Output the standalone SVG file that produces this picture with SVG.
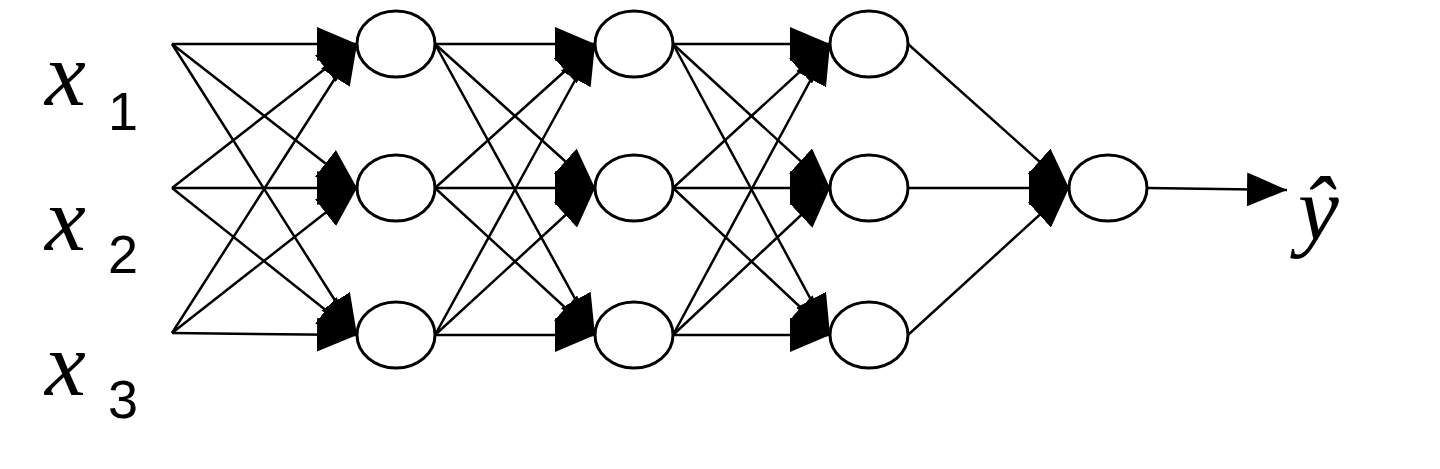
<svg xmlns="http://www.w3.org/2000/svg" width="1440" height="469" viewBox="0 0 1440 469">
<style>
.n{fill:#fff;stroke:#000;stroke-width:3}
.c line{stroke:#000;stroke-width:2.5;marker-end:url(#ah)}
.v{font-family:"Liberation Serif",serif;font-style:italic;font-size:92px}
.s{font-family:"Liberation Sans",sans-serif;font-size:54px}
</style>
<defs><marker id="ah" markerUnits="userSpaceOnUse" markerWidth="42" markerHeight="34" refX="40" refY="17" orient="auto"><path d="M0,0L40,17L0,34z" fill="#000"/></marker></defs>
<rect width="1440" height="469" fill="#fff"/>
<g class="c">
<line x1="172" y1="44" x2="357" y2="44"/><line x1="172" y1="44" x2="357" y2="188"/><line x1="172" y1="44" x2="357" y2="335"/>
<line x1="172" y1="188" x2="357" y2="44"/><line x1="172" y1="188" x2="357" y2="188"/><line x1="172" y1="188" x2="357" y2="335"/>
<line x1="172" y1="333" x2="357" y2="44"/><line x1="172" y1="333" x2="357" y2="188"/><line x1="172" y1="333" x2="357" y2="335"/>
<line x1="435" y1="44" x2="595" y2="44"/><line x1="435" y1="44" x2="595" y2="188"/><line x1="435" y1="44" x2="595" y2="335"/>
<line x1="435" y1="188" x2="595" y2="44"/><line x1="435" y1="188" x2="595" y2="188"/><line x1="435" y1="188" x2="595" y2="335"/>
<line x1="435" y1="335" x2="595" y2="44"/><line x1="435" y1="335" x2="595" y2="188"/><line x1="435" y1="335" x2="595" y2="335"/>
<line x1="673" y1="44" x2="830" y2="44"/><line x1="673" y1="44" x2="830" y2="188"/><line x1="673" y1="44" x2="830" y2="335"/>
<line x1="673" y1="188" x2="830" y2="44"/><line x1="673" y1="188" x2="830" y2="188"/><line x1="673" y1="188" x2="830" y2="335"/>
<line x1="673" y1="335" x2="830" y2="44"/><line x1="673" y1="335" x2="830" y2="188"/><line x1="673" y1="335" x2="830" y2="335"/>
<line x1="908" y1="44" x2="1069" y2="188"/><line x1="908" y1="188" x2="1069" y2="188"/><line x1="908" y1="335" x2="1069" y2="188"/>
<line x1="1147" y1="188" x2="1287" y2="190"/>
</g>
<g id="l1a"><ellipse class="n" cx="396" cy="44" rx="39" ry="33"/></g>
<g id="l1b"><ellipse class="n" cx="396" cy="188" rx="39" ry="33"/></g>
<g id="l1c"><ellipse class="n" cx="396" cy="335" rx="39" ry="33"/></g>
<g id="l2a"><ellipse class="n" cx="634" cy="44" rx="39" ry="33"/></g>
<g id="l2b"><ellipse class="n" cx="634" cy="188" rx="39" ry="33"/></g>
<g id="l2c"><ellipse class="n" cx="634" cy="335" rx="39" ry="33"/></g>
<g id="l3a"><ellipse class="n" cx="869" cy="44" rx="39" ry="33"/></g>
<g id="l3b"><ellipse class="n" cx="869" cy="188" rx="39" ry="33"/></g>
<g id="l3c"><ellipse class="n" cx="869" cy="335" rx="39" ry="33"/></g>
<g id="out"><ellipse class="n" cx="1108" cy="188" rx="39" ry="33"/></g>
<g id="x1"><text class="v" x="45" y="105">x</text><text class="s" x="108" y="130">1</text></g>
<g id="x2"><text class="v" x="45" y="250">x</text><text class="s" x="108" y="273">2</text></g>
<g id="x3"><text class="v" x="45" y="395">x</text><text class="s" x="108" y="418">3</text></g>
<g id="yhat"><text class="v" x="1298" y="240">ŷ</text></g>
</svg>
